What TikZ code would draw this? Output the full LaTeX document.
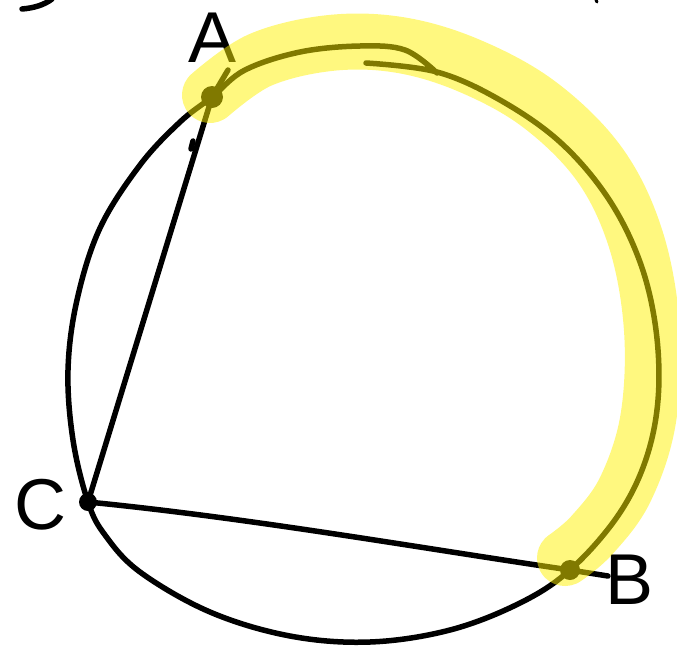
\documentclass[tikz,border=0pt]{standalone}
\usepackage{fontspec}
\setmainfont{Liberation Sans}
\begin{document}
\begin{tikzpicture}[x=1pt,y=-1pt,
  ink/.style={line width=5.5pt,line cap=round,line join=round,black},
  hl/.style={line width=56pt,line cap=round,line join=round,yellow,opacity=0.5},
  lbl/.style={font=\fontsize{72}{72}\selectfont,inner sep=0pt},
  blob/.style={fill=black}]
\useasboundingbox (0,0) rectangle (677,654);
% points
\coordinate (A) at (212,97);
\coordinate (B) at (570,570);
\coordinate (C) at (88,502);
\coordinate (At) at (228,70);
\coordinate (Bt) at (608,576);
% circle (two overlapping strokes at the top)
\draw[ink] plot[smooth,tension=0.6] coordinates {
  (366,63) (437,72) (500,100) (560,142) (608,198) (640,262) (656,330)
  (658,400) (645,462) (617,517) (B) (520,603) (450,630) (370,642)
  (290,636) (210,612) (140,572) (105,535) (C) (73,440) (68,370)
  (77,300) (100,228) (140,165) (180,122) (A) (245,70) (300,52)
  (360,46) (405,50) (437,73)};
% chords
\draw[ink] (C) -- (A) -- (At);
\draw[ink] (C) .. controls (250,518) and (420,548) .. (B) -- (Bt);
\draw[ink] (193,141) -- (191,149);
% dots
\fill[blob] (A) circle (11pt);
\fill[blob] (C) circle (9pt);
\fill[blob] (B) circle (10pt);
% labels
\node[lbl] (lA) at (213,38) {A};
\node[lbl] (lC) at (40,505) {C};
\node[lbl] (lB) at (630,580) {B};
% stray strokes at the top edge
\draw[ink] (22,9) .. controls (34,8) and (44,5) .. (52,-1);
\draw[ink,line width=3pt] (596,0) -- (597,2);
% highlight
\draw[hl] plot[smooth,tension=0.6] coordinates {
  (210,95) (260,60) (330,43) (400,45) (470,66) (540,105) (600,165)
  (636,240) (652,330) (648,420) (625,490) (592,535) (565,558)};
\end{tikzpicture}
\end{document}
